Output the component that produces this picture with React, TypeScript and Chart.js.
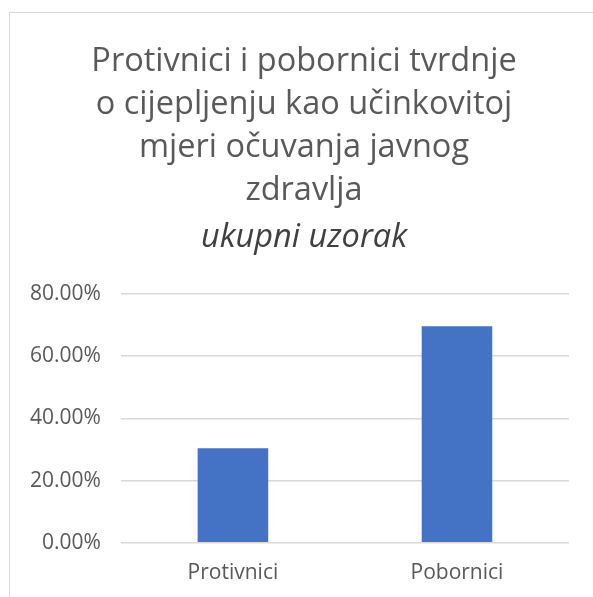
import React, { useEffect, useRef } from "react";
import { Chart, registerables } from "chart.js";

Chart.register(...registerables);

const categories = ["Protivnici", "Pobornici"];
const values = [30.4, 69.6];
const titleLines = [
  "Protivnici i pobornici tvrdnje",
  "o cijepljenju kao učinkovitoj",
  "mjeri očuvanja javnog",
  "zdravlja",
];
const subtitleText = "ukupni uzorak";
const yMax = 80;
const yStep = 20;

const FONT = "'Open Sans', 'Noto Sans', sans-serif";
const GREY = "#595959";

export default function App() {
  const ref = useRef<HTMLCanvasElement | null>(null);

  useEffect(() => {
    if (!ref.current) return;
    const chart = new Chart(ref.current, {
      type: "bar",
      data: {
        labels: categories,
        datasets: [
          {
            data: values,
            backgroundColor: "#4472C4",
            borderWidth: 0,
            barPercentage: 0.63,
            categoryPercentage: 0.5,
            yAxisID: "y",
          },
        ],
      },
      options: {
        animation: false,
        responsive: false,
        maintainAspectRatio: false,
        layout: { padding: { top: 0, right: 0, bottom: 0, left: 0 } },
        plugins: {
          legend: { display: false },
          tooltip: { enabled: false },
          title: {
            display: true,
            text: titleLines,
            color: GREY,
            font: { family: FONT, size: 32.5, weight: "normal", lineHeight: 43 / 32.5 },
            padding: { top: 27, bottom: 4 },
          },
          subtitle: {
            display: true,
            text: subtitleText,
            color: "#404040",
            font: { family: FONT, size: 32.5, style: "italic", weight: "normal", lineHeight: 43 / 32.5 },
            padding: { top: 0, bottom: 35 },
          },
        },
        scales: {
          x: {
            grid: { display: false, drawTicks: false },
            border: { display: false },
            ticks: { color: GREY, font: { family: FONT, size: 21 }, padding: 18 },
          },
          y: {
            min: 0,
            max: yMax,
            grid: { color: "#d9d9d9", lineWidth: 1.5, drawTicks: false },
            border: { display: false },
            ticks: {
              stepSize: yStep,
              color: GREY,
              font: { family: FONT, size: 21 },
              padding: 20,
              callback: (v: any) => Number(v).toFixed(2) + "%",
            },
          },
          y2: {
            position: "right",
            display: true,
            grid: { display: false, drawTicks: false },
            border: { display: false },
            ticks: { display: false },
            afterFit: (s: any) => {
              s.width = 29;
            },
          },
        },
      },
    });
    return () => chart.destroy();
  }, []);

  return (
    <div
      style={{
        position: "fixed",
        left: 9,
        top: 12,
        width: 589,
        height: 592,
        boxSizing: "border-box",
        borderLeft: "1px solid #d9d9d9",
        borderTop: "1px solid #d9d9d9",
        background: "#fff",
      }}
    >
      <canvas ref={ref} width={588} height={591} style={{ display: "block" }} />
    </div>
  );
}
